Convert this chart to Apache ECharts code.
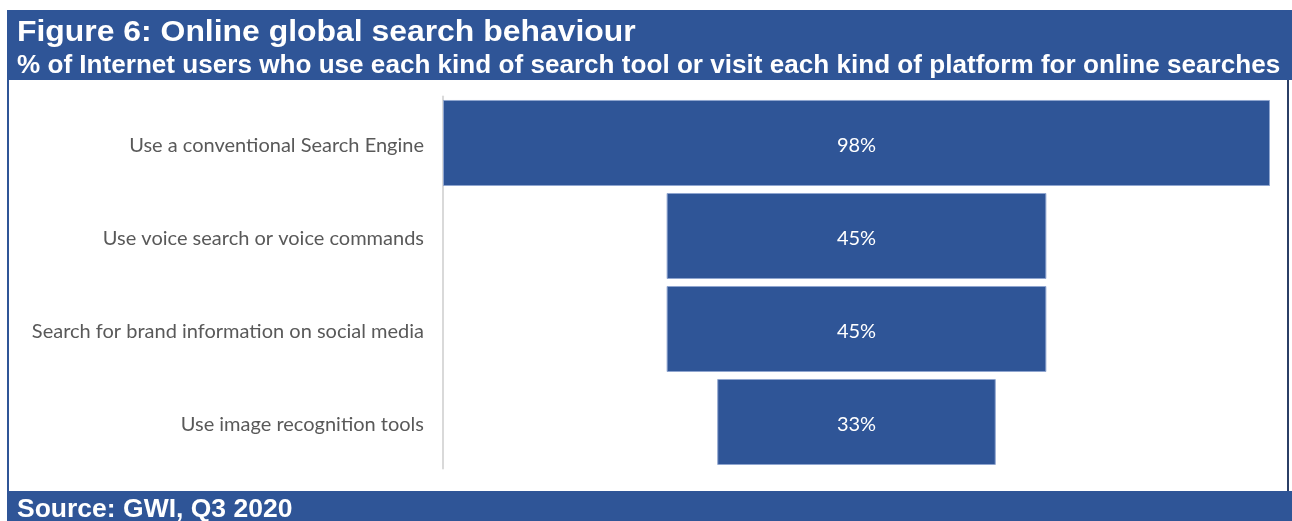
<!DOCTYPE html>
<html>
<head>
<meta charset="utf-8">
<script src="https://cdn.jsdelivr.net/npm/echarts@6/dist/echarts.min.js"></script>
<style>
  html, body { margin: 0; padding: 0; background: #ffffff; }
  #chart { width: 1292px; height: 521px; }
</style>
</head>
<body>
<div id="chart"></div>
<script>
// Search behaviour categories, top to bottom
const categories = [
  'Use a conventional Search Engine',
  'Use voice search or voice commands',
  'Search for brand information on social media',
  'Use image recognition tools'
];
// Share of internet users (%)
const shares = [98, 45, 45, 33];

const BLUE = '#2F5597';
const HEAD_FONT = 'Liberation Sans, Arial, sans-serif';
const maxShare = Math.max(...shares);
// invisible spacer so each bar sits centred on the widest one
const spacer = shares.map(v => (maxShare - v) / 2);

const chart = echarts.init(document.getElementById('chart'), null, { renderer: 'canvas' });

chart.setOption({
  animation: false,
  backgroundColor: '#ffffff',
  graphic: [
    // header band
    { type: 'rect', shape: { x: 7, y: 10, width: 1285, height: 70 }, style: { fill: BLUE }, z: -10 },
    // left frame edge
    { type: 'rect', shape: { x: 7, y: 80, width: 2, height: 411 }, style: { fill: BLUE }, z: -10 },
    // right frame edge
    { type: 'rect', shape: { x: 1287, y: 80, width: 2, height: 411 }, style: { fill: '#2b3f66' }, z: -10 },
    // footer band
    { type: 'rect', shape: { x: 7, y: 491, width: 1285, height: 30 }, style: { fill: BLUE }, z: -10 },
    // heading, subheading and source line (slightly widened type)
    {
      type: 'text', x: 17, y: 32.5, scaleX: 1.10, z: 10,
      style: {
        text: 'Figure 6: Online global search behaviour',
        fill: '#ffffff', font: 'bold 29px ' + HEAD_FONT,
        verticalAlign: 'middle', align: 'left'
      }
    },
    {
      type: 'text', x: 17, y: 66.5, scaleX: 1.044, z: 10,
      style: {
        text: '% of Internet users who use each kind of search tool or visit each kind of platform for online searches',
        fill: '#ffffff', font: 'bold 25px ' + HEAD_FONT,
        verticalAlign: 'middle', align: 'left'
      }
    },
    {
      type: 'text', x: 17, y: 510, scaleX: 1.06, z: 10,
      style: {
        text: 'Source: GWI, Q3 2020',
        fill: '#ffffff', font: 'bold 25px ' + HEAD_FONT,
        verticalAlign: 'middle', align: 'left'
      }
    }
  ],
  grid: { left: 443, right: 22, top: 96.5, height: 372, containLabel: false },
  xAxis: {
    type: 'value', min: 0, max: maxShare,
    show: false
  },
  yAxis: {
    type: 'category',
    data: categories,
    inverse: true,
    axisLine: { show: true, lineStyle: { color: '#d9d9d9', width: 2 } },
    axisTick: { show: false },
    axisLabel: {
      margin: 19,
      formatter: v => '{c|' + v + '}',
      rich: {
        c: { color: '#595959', fontFamily: 'Lato', fontSize: 20, padding: [6, 0, 0, 0] }
      }
    }
  },
  series: [
    {
      type: 'bar', stack: 'funnel', data: spacer,
      itemStyle: { color: 'transparent' },
      barCategoryGap: '7.5%',
      silent: true
    },
    {
      type: 'bar', stack: 'funnel', data: shares,
      barCategoryGap: '7.5%',
      itemStyle: { color: BLUE, borderColor: '#8fa5cf', borderWidth: 1 },
      label: {
        show: true, position: 'inside', offset: [0, 3],
        formatter: p => p.value + '%',
        color: '#ffffff', fontFamily: 'Lato', fontSize: 20
      }
    }
  ]
});
</script>
</body>
</html>
